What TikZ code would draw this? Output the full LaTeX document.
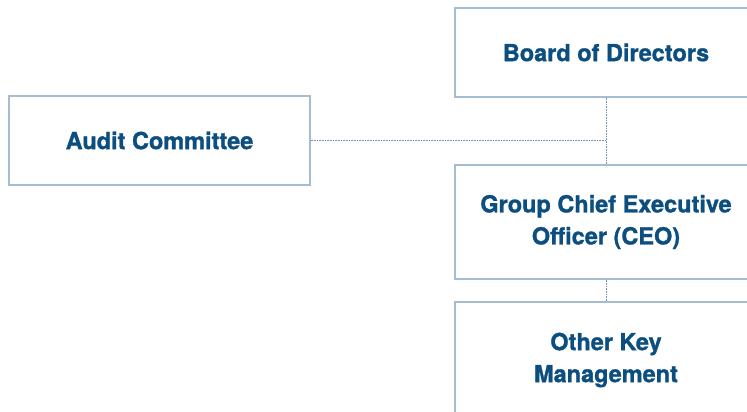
\documentclass[tikz,border=0pt]{standalone}
\usepackage{fontspec}
\setmainfont{TeX Gyre Heros}[BoldFeatures={FakeBold=1.2}]
\definecolor{boxline}{HTML}{A4BDD1}
\definecolor{conn}{HTML}{6F94B6}
\definecolor{txt}{HTML}{0C4E80}
\begin{document}
\begin{tikzpicture}[x=1pt,y=-1pt,
  orgbox/.style={draw=boxline,line width=1.3pt,fill=white,align=center,
    text=txt,font=\fontsize{23.5pt}{32pt}\selectfont\bfseries,inner sep=0pt},
  link/.style={draw=conn,line width=0.9pt,dash pattern=on 0.8pt off 0.8pt}]
\useasboundingbox (0,0) rectangle (747,412);
\clip (0,0) rectangle (747,412);
\node[orgbox,minimum width=301pt,minimum height=89pt] (audit) at (159.5,140.5) {Audit Committee};
\node[orgbox,minimum width=302pt,minimum height=89pt] (board) at (606,52.5) {Board of Directors};
\node[orgbox,minimum width=302pt,minimum height=114pt] (ceo) at (606,222) {Group Chief Executive\\Officer (CEO)};
\node[orgbox,minimum width=302pt,minimum height=116pt] (okm) at (606,360) {Other Key\\Management};
\coordinate (j) at (ceo.north |- audit.east);
\draw[link] (board.south) -- (ceo.north);
\draw[link] (audit.east) -- (j);
\draw[link] (ceo.south) -- (okm.north);
\end{tikzpicture}
\end{document}
